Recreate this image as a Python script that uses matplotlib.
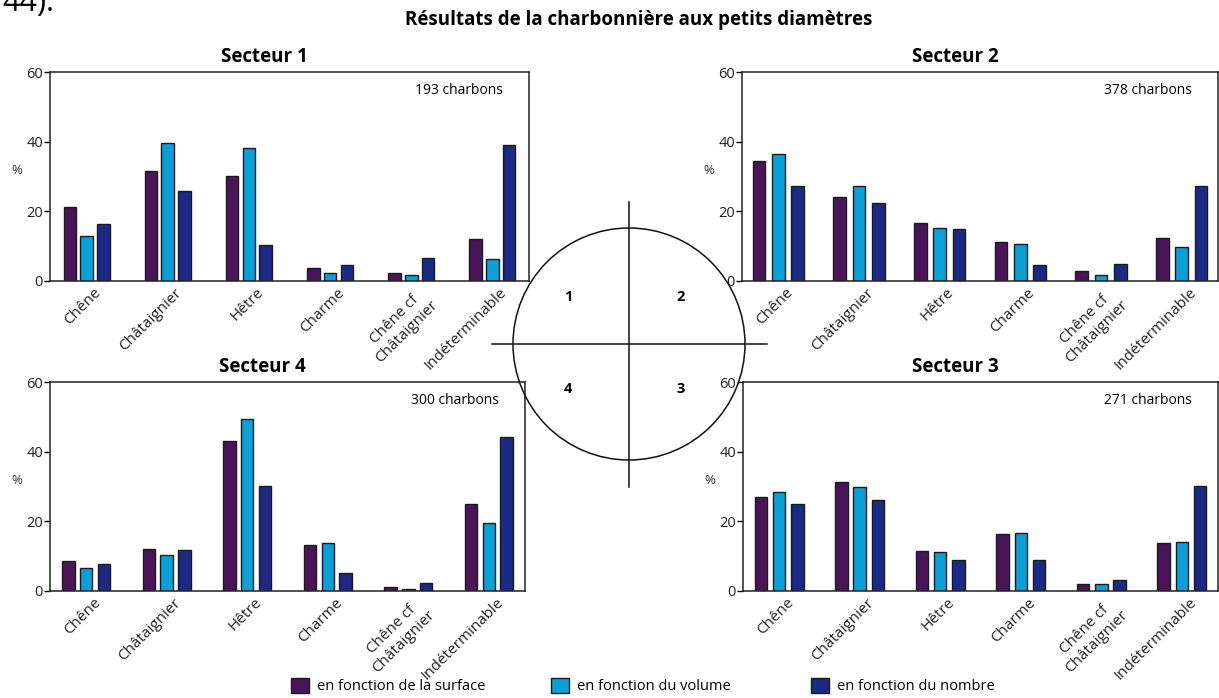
import matplotlib
matplotlib.use('Agg')
import matplotlib.pyplot as plt
from matplotlib.patches import Circle, Patch
from matplotlib.lines import Line2D
import matplotlib.transforms as mtransforms
import numpy as np

plt.rcParams['font.family'] = ['Open Sans', 'DejaVu Sans']

# ---------------- data ----------------
categories = ['Chêne', 'Châtaignier', 'Hêtre', 'Charme', 'Chêne cf\nChâtaignier', 'Indéterminable']
series_names = ['en fonction de la surface', 'en fonction du volume', 'en fonction du nombre']

s1_surface = [21.3, 31.7, 30.2, 3.8, 2.3, 12.0]
s1_volume  = [12.9, 39.7, 38.1, 2.3, 1.7, 6.4]
s1_nombre  = [16.3, 25.8, 10.4, 4.6, 6.7, 38.9]

s2_surface = [34.5, 24.0, 16.7, 11.1, 2.9, 12.4]
s2_volume  = [36.6, 27.3, 15.1, 10.5, 1.8, 9.9]
s2_nombre  = [27.3, 22.5, 14.8, 4.7, 4.9, 27.4]

s3_surface = [27.1, 31.2, 11.4, 16.4, 2.0, 13.8]
s3_volume  = [28.3, 30.0, 11.2, 16.6, 1.9, 14.0]
s3_nombre  = [25.0, 26.2, 8.9, 8.9, 3.3, 30.1]

s4_surface = [8.6, 12.1, 43.2, 13.2, 1.1, 24.9]
s4_volume  = [6.5, 10.3, 49.4, 13.8, 0.7, 19.4]
s4_nombre  = [7.8, 11.7, 30.1, 5.2, 2.3, 44.3]

sector_titles = ['Secteur 1', 'Secteur 2', 'Secteur 3', 'Secteur 4']
sector_counts = ['193 charbons', '378 charbons', '271 charbons', '300 charbons']
yticks = [0, 20, 40, 60]
main_title = 'Résultats de la charbonnière aux petits diamètres'

# ---------------- styling ----------------
colors = ['#4A1558', '#08A0D6', '#1B2A86']
W, H = 1219, 698
fig = plt.figure(figsize=(W / 100, H / 100), dpi=100)
fig.patch.set_facecolor('white')


def px_axes(left, top, right, bottom):
    return fig.add_axes([left / W, 1 - bottom / H, (right - left) / W, (bottom - top) / H])


panels = [
    (px_axes(50, 72, 529, 281), [s1_surface, s1_volume, s1_nombre], 0, 0.206),
    (px_axes(742, 72, 1218, 281), [s2_surface, s2_volume, s2_nombre], 1, 0.240),
    (px_axes(743, 382, 1218, 591), [s3_surface, s3_volume, s3_nombre], 2, 0.226),
    (px_axes(50, 382, 525, 591), [s4_surface, s4_volume, s4_nombre], 3, 0.222),
]

x = np.arange(len(categories))
bar_w = 0.155
for ax, series, idx, step in panels:
    for k, vals in enumerate(series):
        ax.bar(x + (k - 1) * step, vals, width=bar_w, color=colors[k],
               edgecolor='#1a1a1a', linewidth=1.0, zorder=2)
    ax.set_xlim(-0.45, 5.45)
    ax.set_ylim(0, 60)
    ax.set_yticks(yticks)
    ax.set_yticklabels([str(t) for t in yticks], fontsize=10.5, color='#222222')
    ax.tick_params(axis='y', length=4, width=1.0, pad=1, direction='out')
    ax.set_xticks(x)
    ax.set_xticklabels(categories, rotation=45, ha='right', va='top',
                       rotation_mode='anchor', fontsize=11, multialignment='center',
                       color='#222222')
    ax.tick_params(axis='x', length=0, pad=3)
    offset = mtransforms.ScaledTranslation(7 / 100, 0, fig.dpi_scale_trans)
    for lab in ax.get_xticklabels():
        lab.set_transform(lab.get_transform() + offset)
    for sp in ax.spines.values():
        sp.set_linewidth(1.1)
        sp.set_color('#222222')
    ax.set_ylabel('%', rotation=0, fontsize=9.5, color='#333333')
    ax.yaxis.set_label_coords(-33 / 479, 0.50)
    ax.text(0.448, 1 + 15 / 209, sector_titles[idx], transform=ax.transAxes,
            ha='center', va='center', fontsize=13.5, fontweight='bold')
    ax.text(0.945, 0.91, sector_counts[idx], transform=ax.transAxes,
            ha='right', va='center', fontsize=10)
    ax.set_facecolor('none')

# main title and partial heading
fig.text(639 / W, 1 - 20 / H, main_title, ha='center', va='center',
         fontsize=13.5, fontweight='bold')
fig.text(2 / W, 1 - 11 / H, '44).', ha='left', va='baseline', fontsize=22)

# overlay with the sector diagram
ov = fig.add_axes([0, 0, 1, 1], zorder=5)
ov.set_xlim(0, W)
ov.set_ylim(H, 0)
ov.axis('off')
ov.patch.set_alpha(0)
cx, cy, r = 629, 344, 116
ov.add_patch(Circle((cx, cy), r, fill=False, edgecolor='#111111', linewidth=1.1))
ov.add_line(Line2D([cx, cx], [202, 487], color='#111111', linewidth=1.1))
ov.add_line(Line2D([492, 767], [cy, cy], color='#111111', linewidth=1.1))
for lab, (lx, ly) in zip(['1', '2', '3', '4'], [(568, 297), (681, 297), (681, 389), (568, 389)]):
    ov.text(lx, ly, lab, ha='center', va='center', fontsize=10.5, fontweight='bold')

# legend
leg_x = [291, 551, 811]
for k in range(3):
    fig.legend([Patch(facecolor=colors[k], edgecolor='#1a1a1a', linewidth=1.0)],
               [series_names[k]], loc='center left',
               bbox_to_anchor=(leg_x[k] / W, 1 - 686 / H), frameon=False,
               fontsize=10.5, handlelength=1.2, handleheight=1.2,
               handletextpad=0.6, borderpad=0, borderaxespad=0)

fig.savefig('out.png', dpi=100)
